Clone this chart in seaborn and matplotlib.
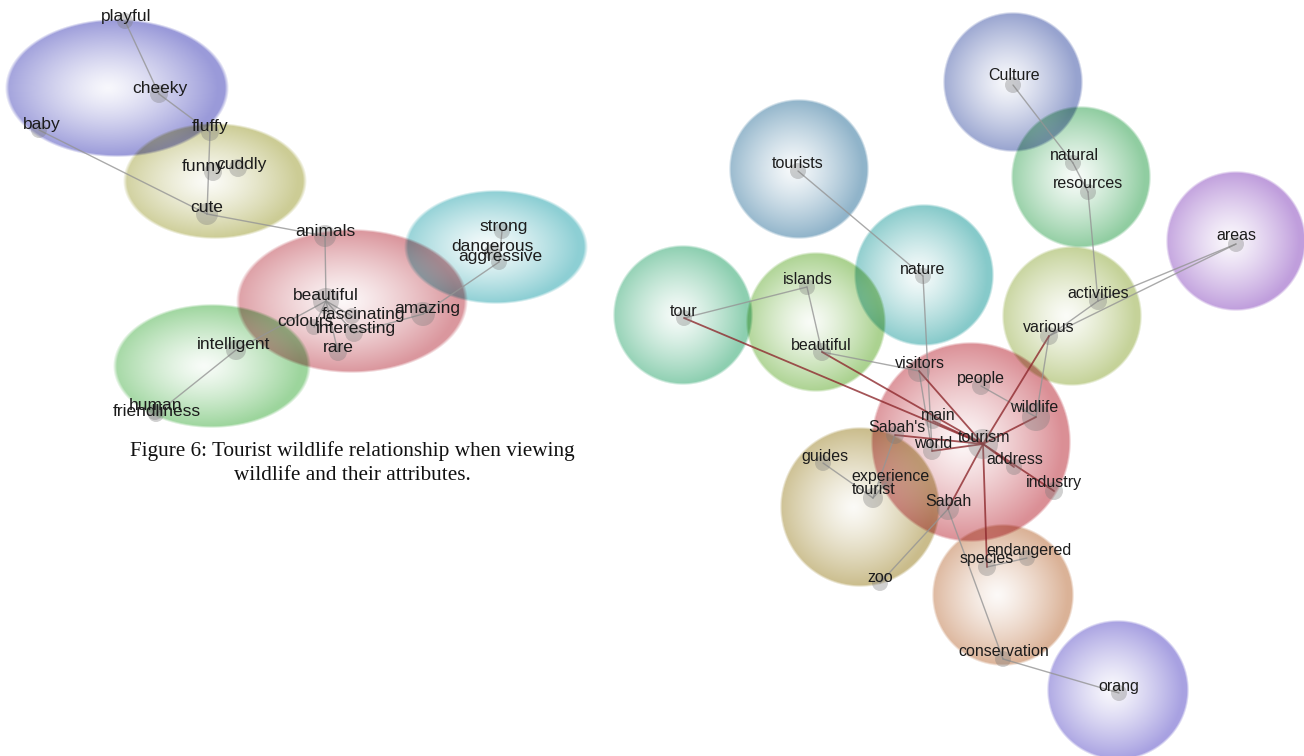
import numpy as np
import pandas as pd
import matplotlib
matplotlib.use("Agg")
import matplotlib.pyplot as plt
import seaborn as sns

W, H = 1304, 756

# theme bubbles: centre, radii, edge colour
bub_x = [117, 215, 352, 496, 212,
         1013, 799, 1081, 1236, 924, 683, 816, 1072, 971, 860, 1003, 1118]
bub_y = [88, 181, 301, 247, 366,
         82, 169, 177, 241, 275, 315, 322, 316, 442, 507, 595, 690]
bub_rx = [110, 90, 114, 90, 97,
          69, 69, 69, 69, 69, 69, 69, 69, 99, 79, 70, 70]
bub_ry = [68, 57, 71, 56, 61,
          69, 69, 70, 69, 70, 69, 69, 69, 99, 79, 70, 69]
bub_rgb = [(135, 135, 210), (195, 195, 130), (212, 132, 140), (120, 198, 204), (138, 205, 138),
           (132, 146, 198), (124, 166, 192), (124, 196, 144), (180, 140, 214), (112, 192, 192),
           (120, 198, 162), (156, 202, 124), (186, 202, 134), (212, 122, 130), (192, 176, 118),
           (212, 164, 132), (152, 144, 220)]

# left map concepts
left_names = ["playful", "cheeky", "baby", "fluffy", "funny", "cuddly", "cute", "animals",
              "beautiful", "fascinating", "colours", "interesting", "rare", "amazing",
              "strong", "dangerous", "aggressive", "intelligent", "human", "friendliness"]
left_lx = [126, 160, 42, 210, 203, 241, 207, 325, 326, 363, 305, 356, 338, 427,
           504, 492, 500, 234, 155, 157]
left_ly = [16, 88, 125, 126, 167, 164, 208, 231, 296, 315, 322, 328, 347, 308,
           226, 246, 257, 345, 406, 412]
left_nx = [125, 159, 39, 210, 213, 238, 207, 325, 326, 352, 314, 354, 338, 423,
           502, 492, 499, 236, 155, 156]
left_ny = [21, 94, 130, 132, 172, 168, 214, 236, 301, 316, 327, 333, 352, 314,
           231, 252, 262, 350, 412, 414]
left_nr = [8, 9, 8, 9, 9, 9, 11, 11, 13, 8, 8, 9, 9, 12, 8, 8, 8, 10, 8, 8]
left_edges = [("playful", "cheeky"), ("cheeky", "fluffy"), ("fluffy", "cute"), ("baby", "cute"),
              ("cute", "animals"), ("animals", "beautiful"), ("beautiful", "rare"),
              ("beautiful", "interesting"), ("beautiful", "fascinating"), ("beautiful", "colours"),
              ("beautiful", "intelligent"), ("intelligent", "friendliness"),
              ("interesting", "amazing"), ("amazing", "aggressive"), ("strong", "aggressive")]

# right map concepts
right_names = ["Culture", "tourists", "natural", "resources", "areas", "nature", "islands",
               "tour", "activities", "various", "beautiful", "visitors", "people", "wildlife",
               "main", "Sabah's", "tourism", "world", "address", "guides", "experience",
               "tourist", "industry", "Sabah", "endangered", "species", "zoo",
               "conservation", "orang"]
right_lx = [1014, 798, 1074, 1088, 1236, 923, 808, 684, 1098, 1049, 821, 920, 981, 1034,
            938, 897, 984, 933, 1015, 825, 891, 874, 1054, 948, 1029, 987, 880, 1004, 1119]
right_ly = [76, 163, 155, 184, 236, 269, 280, 311, 293, 328, 345, 363, 379, 408,
            416, 428, 437, 443, 460, 456, 476, 490, 483, 501, 551, 558, 577, 651, 686]
right_nx = [1013, 798, 1073, 1088, 1236, 923, 807, 684, 1098, 1049, 822, 919, 981, 1036,
            933, 895, 983, 932, 1014, 823, 886, 873, 1054, 948, 1027, 987, 880, 1003, 1119]
right_ny = [85, 171, 163, 192, 244, 276, 287, 318, 301, 336, 352, 371, 386, 417,
            421, 435, 444, 451, 467, 463, 483, 498, 491, 509, 558, 567, 583, 659, 693]
right_nr = [8, 8, 8, 8, 8, 8, 8, 8, 9, 9, 9, 11, 9, 14,
            8, 9, 15, 9, 8, 8, 7, 10, 9, 11, 8, 9, 8, 8, 8]
right_edges = [("Culture", "natural"), ("natural", "resources"), ("resources", "activities"),
               ("activities", "areas"), ("various", "areas"), ("activities", "various"),
               ("various", "wildlife"), ("tourists", "nature"), ("nature", "world"),
               ("tour", "islands"), ("islands", "beautiful"), ("beautiful", "visitors"),
               ("visitors", "world"), ("people", "wildlife"), ("guides", "tourist"),
               ("Sabah's", "tourist"), ("experience", "tourist"), ("Sabah", "zoo"),
               ("Sabah", "conservation"), ("endangered", "species"), ("conservation", "orang")]
right_red = ["tour", "beautiful", "visitors", "main", "Sabah's", "world", "various",
             "wildlife", "industry", "address", "Sabah", "species"]

caption = ["Figure 6: Tourist wildlife relationship when viewing",
           "wildlife and their attributes."]

sns.set_theme(style="white")
plt.rcParams["font.family"] = ["Liberation Sans", "DejaVu Sans"]

fig = plt.figure(figsize=(13.04, 7.56), dpi=100)
ax = fig.add_axes([0, 0, 1, 1])

# bubbles: radial gradient, multiplied onto white so overlaps get darker
yy, xx = np.mgrid[0:H, 0:W] + 0.5
canvas = np.ones((H, W, 3))
for cx, cy, rx, ry, rgb in zip(bub_x, bub_y, bub_rx, bub_ry, bub_rgb):
    d = np.sqrt(((xx - cx + 0.08 * rx) / rx) ** 2 + ((yy - cy) / ry) ** 2)
    d_edge = np.sqrt(((xx - cx) / rx) ** 2 + ((yy - cy) / ry) ** 2)
    edge = np.clip((1 - d_edge) * min(rx, ry) / 2.5 + 0.5, 0, 1)
    a = 0.06 + 0.78 * np.clip(d, 0, 1) ** 1.25
    col = np.array(rgb) / 255.0
    canvas *= 1 - (edge * a)[..., None] * (1 - col)
ax.imshow(canvas, extent=(0, W, H, 0), zorder=0, interpolation="bilinear")


def draw_map(names, lx, ly, nx, ny, nr, edges, red, fs):
    pos = {n: (x, y) for n, x, y in zip(names, nx, ny)}
    for a, b in edges:
        ax.plot([pos[a][0], pos[b][0]], [pos[a][1], pos[b][1]],
                color="#959595", lw=1.0, alpha=0.8, zorder=1)
    for b in red:
        ax.plot([pos["tourism"][0], pos[b][0]], [pos["tourism"][1], pos[b][1]],
                color="#8e2a2e", lw=1.3, alpha=0.8, zorder=1)
    df = pd.DataFrame({"x": nx, "y": ny, "s": [(1.44 * r) ** 2 for r in nr]})
    lo, hi = df["s"].min(), df["s"].max()
    sns.scatterplot(data=df, x="x", y="y", size="s", sizes=(lo, hi), size_norm=(lo, hi),
                    color="#7a7a7a", alpha=0.35, linewidth=0, legend=False, ax=ax, zorder=2)
    for n, x, y in zip(names, lx, ly):
        ax.text(x, y, n, ha="center", va="center", fontsize=fs, color="#1c1c1c", zorder=3)


draw_map(left_names, left_lx, left_ly, left_nx, left_ny, left_nr, left_edges, [], 12.5)
draw_map(right_names, right_lx, right_ly, right_nx, right_ny, right_nr, right_edges,
         right_red, 11.5)

for i, line in enumerate(caption):
    ax.text(352, 451 + i * 24, line, ha="center", va="center", fontsize=15.3,
            family=["Liberation Serif", "DejaVu Serif"], color="#111111")

ax.set_xlim(0, W)
ax.set_ylim(H, 0)
ax.axis("off")
fig.savefig("out.png", dpi=100)
